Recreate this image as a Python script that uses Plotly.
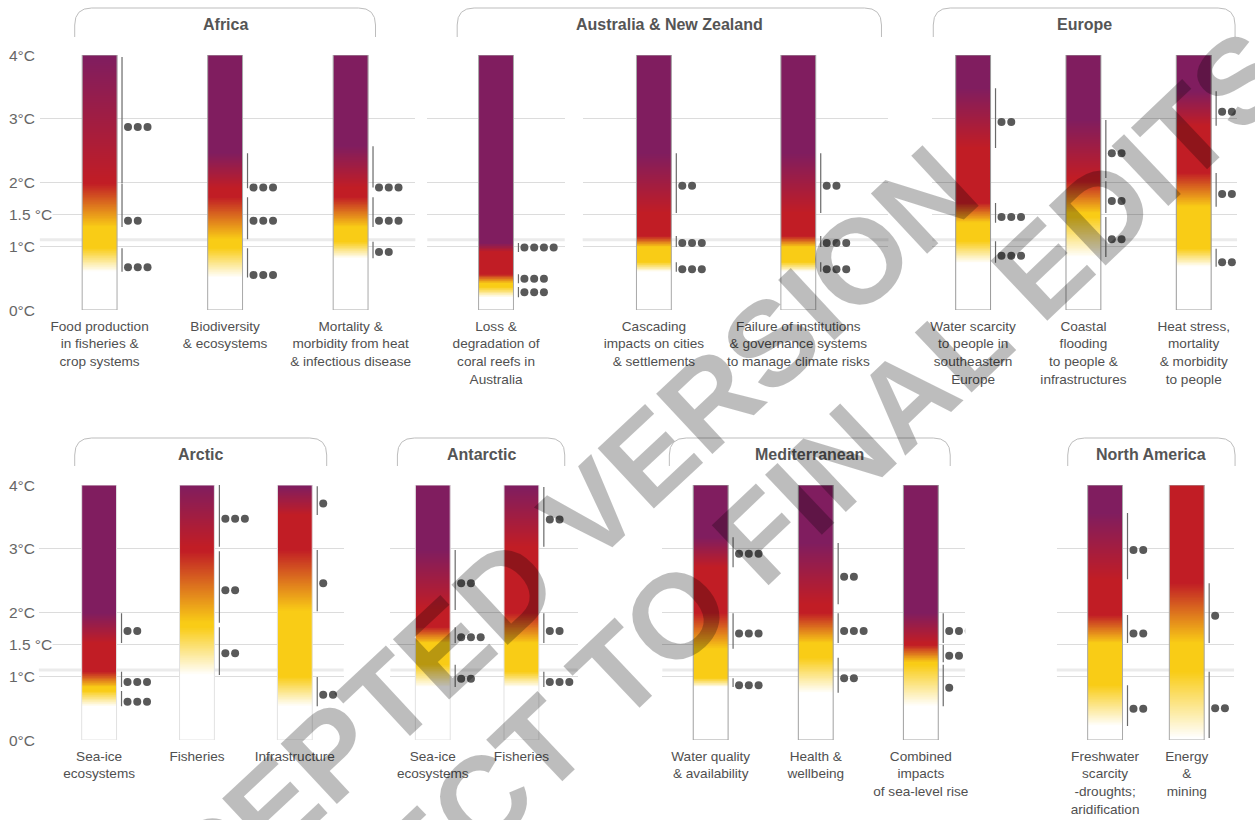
import numpy as np
import plotly.graph_objects as go

W, H = 1255, 820

# ======================= DATA =======================
REGION_NAMES = ["Africa", "Australia & New Zealand", "Europe",
                "Arctic", "Antarctic", "Mediterranean", "North America"]

TEMP_TICK_VALUES = [0, 1, 1.5, 2, 3, 4]
TEMP_TICK_LABELS = ["0°C", "1°C", "1.5 °C", "2°C", "3°C", "4°C"]
PRESENT_DAY_WARMING = 1.1
TEMP_MAX = 4.0

# risk levels: undetectable, moderate, high, very high
RISK_LEVEL_COLORS = ["#ffffff", "#f9cc16", "#c11d25", "#801d5f"]

AFRICA_LABELS = ["Food production<br>in fisheries &<br>crop systems",
                 "Biodiversity<br>& ecosystems",
                 "Mortality &<br>morbidity from heat<br>& infectious disease"]
AUS_REEF_LABELS = ["Loss &<br>degradation of<br>coral reefs in<br>Australia"]
AUS_CITY_LABELS = ["Cascading<br>impacts on cities<br>& settlements",
                   "Failure of institutions<br>& governance systems<br>to manage climate risks"]
EUROPE_LABELS = ["Water scarcity<br>to people in<br>southeastern<br>Europe",
                 "Coastal<br>flooding<br>to people &<br>infrastructures",
                 "Heat stress,<br>mortality<br>& morbidity<br>to people"]
ARCTIC_LABELS = ["Sea-ice<br>ecosystems", "Fisheries", "Infrastructure"]
ANTARCTIC_LABELS = ["Sea-ice<br>ecosystems", "Fisheries"]
MED_LABELS = ["Water quality<br>& availability", "Health &<br>wellbeing",
              "Combined<br>impacts<br>of sea-level rise"]
NAMERICA_LABELS = ["Freshwater<br>scarcity<br>-droughts;<br>aridification",
                   "Energy<br>&<br>mining"]

# transitions (bottom -> top), each: [start °C, end °C, confidence marker °C, confidence dots]
AFRICA_TRANSITIONS = [
    [[0.60, 0.97, 0.67, 3], [1.30, 1.98, 1.40, 2], [1.99, 3.97, 2.87, 3]],
    [[0.51, 0.97, 0.55, 3], [1.11, 1.77, 1.40, 3], [1.91, 2.46, 1.92, 3]],
    [[0.81, 1.07, 0.91, 2], [1.30, 1.77, 1.40, 3], [1.92, 2.57, 1.92, 3]],
]
AUS_REEF_TRANSITIONS = [
    [[0.20, 0.36, 0.28, 3], [0.42, 0.56, 0.49, 3], [0.91, 1.05, 0.98, 4]],
]
AUS_CITY_TRANSITIONS = [
    [[0.60, 0.75, 0.64, 3], [0.99, 1.16, 1.05, 3], [1.52, 2.46, 1.95, 2]],
    [[0.60, 0.75, 0.64, 3], [0.99, 1.16, 1.05, 3], [1.52, 2.46, 1.95, 2]],
]
EUROPE_TRANSITIONS = [
    [[0.74, 1.08, 0.85, 3], [1.37, 1.68, 1.46, 3], [2.54, 3.48, 2.95, 2]],
    [[0.83, 1.46, 1.11, 2], [1.52, 2.02, 1.71, 2], [2.07, 2.98, 2.46, 2]],
    [[0.68, 0.96, 0.75, 3], [1.62, 2.15, 1.82, 3], [2.89, 3.43, 3.11, 2]],
]
ARCTIC_TRANSITIONS = [
    [[0.53, 0.77, 0.60, 3], [0.83, 1.07, 0.91, 3], [1.52, 1.99, 1.71, 2]],
    [[1.02, 1.77, 1.36, 2], [1.84, 2.96, 2.35, 2], [3.03, 4.00, 3.47, 3]],
    [[0.53, 0.99, 0.71, 2], [2.02, 2.98, 2.46, 1], [3.53, 3.98, 3.71, 1]],
]
ANTARCTIC_TRANSITIONS = [
    [[0.83, 1.18, 0.96, 2], [1.52, 1.77, 1.61, 3], [2.04, 2.98, 2.46, 2]],
    [[0.83, 1.07, 0.91, 3], [1.52, 1.99, 1.71, 2], [3.03, 3.97, 3.46, 2]],
]
MED_TRANSITIONS = [
    [[0.83, 0.97, 0.86, 3], [1.43, 1.99, 1.67, 3], [2.71, 3.18, 2.92, 3]],
    [[0.74, 1.29, 0.97, 2], [1.52, 1.99, 1.71, 3], [2.13, 3.09, 2.56, 2]],
    [[0.53, 1.18, 0.82, 1], [1.22, 1.49, 1.32, 2], [1.52, 1.99, 1.71, 3]],
]
NAMERICA_TRANSITIONS = [
    [[0.22, 0.86, 0.49, 2], [1.52, 1.96, 1.67, 2], [2.52, 3.56, 2.98, 2]],
    [[0.03, 1.07, 0.50, 2], [1.52, 2.46, 1.95, 1]],
]

WATERMARK_LINES = ["ACCEPTED VERSION", "SUBJECT TO FINAL EDITS"]

# ======================= LAYOUT / STYLE =======================
PANELS = [
    (AFRICA_LABELS, AFRICA_TRANSITIONS),
    (AUS_REEF_LABELS, AUS_REEF_TRANSITIONS),
    (AUS_CITY_LABELS, AUS_CITY_TRANSITIONS),
    (EUROPE_LABELS, EUROPE_TRANSITIONS),
    (ARCTIC_LABELS, ARCTIC_TRANSITIONS),
    (ANTARCTIC_LABELS, ANTARCTIC_TRANSITIONS),
    (MED_LABELS, MED_TRANSITIONS),
    (NAMERICA_LABELS, NAMERICA_TRANSITIONS),
]
PANEL_ROW = [0, 0, 0, 0, 1, 1, 1, 1]
PANEL_DOMAIN_PX = [(38, 415), (427, 565), (583, 890), (934, 1240),
                   (37, 343), (390, 578), (663, 967), (1059, 1237)]
PANEL_FIRST_CENTER_PX = [98, 496, 654.5, 975, 97.5, 432.5, 711.5, 1107.5]
PANEL_SPACING_PX = [126, 100, 145, 110.75, 98.25, 89, 105.5, 82]
PANEL_OUTLINE = ["#a9a9a9", "#a9a9a9", "#a9a9a9", "#9a9a9a",
                 "#e2e2e2", "#e2e2e2", "#a0a0a0", "#a9a9a9"]
ROW_Y_PX = [(55, 310), (485, 740)]          # pixel rows of 4°C and 0°C
HEADER_BOXES = [  # (region index, x0, x1, top, bottom)
    (0, 73, 375, 8, 37), (1, 457, 883, 8, 37), (2, 935, 1238, 8, 37),
    (3, 73, 326, 438, 466), (4, 397, 565, 438, 466), (5, 670, 952, 438, 466),
    (6, 1070, 1238, 438, 466),
]
BAR_WIDTH_PX = 35
LINE_GAP_PX = 5
DOT_GAP_PX = 6
DOT_STEP_PX = 9.8
FONT = "Liberation Sans, Arial, sans-serif"
WATERMARK_POS = [(505, 590, -43, 120), (715, 579, -43.5, 120)]  # cx, cy, angle, size

def X(px):
    return px / W

def Y(py):
    return 1 - py / H

colorscale = [[i / 3, c] for i, c in enumerate(RISK_LEVEL_COLORS)]
t_edges = np.linspace(0, TEMP_MAX, 401)
t_mid = 0.5 * (t_edges[:-1] + t_edges[1:])

fig = go.Figure()
layout = dict(width=W, height=H, margin=dict(l=0, r=0, t=0, b=0),
              plot_bgcolor="white", paper_bgcolor="white",
              showlegend=False, font=dict(family=FONT, color="#555555"))
shapes, annotations = [], []

for k, (labels, transitions) in enumerate(PANELS):
    ax = k + 1
    xa = "x" if ax == 1 else f"x{ax}"
    ya = "y" if ax == 1 else f"y{ax}"
    xkey = "xaxis" if ax == 1 else f"xaxis{ax}"
    ykey = "yaxis" if ax == 1 else f"yaxis{ax}"
    d0, d1 = PANEL_DOMAIN_PX[k]
    c0, s = PANEL_FIRST_CENTER_PX[k], PANEL_SPACING_PX[k]
    top_px, bot_px = ROW_Y_PX[PANEL_ROW[k]]
    w = BAR_WIDTH_PX / s
    n = len(labels)

    layout[xkey] = dict(domain=[X(d0), X(d1)], range=[(d0 - c0) / s, (d1 - c0) / s],
                        anchor=ya, tickmode="array", tickvals=list(range(n)),
                        ticktext=labels, showgrid=False, zeroline=False,
                        showline=False, ticks="", fixedrange=True,
                        ticklabelstandoff=6,
                        tickfont=dict(family=FONT, size=13.6, color="#505050"))
    layout[ykey] = dict(domain=[Y(bot_px), Y(top_px)], range=[0, TEMP_MAX], anchor=xa,
                        tickmode="array", tickvals=TEMP_TICK_VALUES,
                        showticklabels=False, showgrid=True, gridcolor="#dcdcdc",
                        gridwidth=1, zeroline=False, showline=False, ticks="",
                        fixedrange=True)

    # present-day warming band
    shapes.append(dict(type="line", xref=f"{xa} domain", yref=ya, x0=0, x1=1,
                       y0=PRESENT_DAY_WARMING, y1=PRESENT_DAY_WARMING,
                       line=dict(color="#ebebeb", width=3), layer="below"))

    line_x, line_y, dot_x, dot_y = [], [], [], []
    for i, trans in enumerate(transitions):
        level = np.zeros_like(t_mid)
        for lo, hi, _, _ in trans:
            level += np.clip((t_mid - lo) / (hi - lo), 0, 1)
        fig.add_trace(go.Heatmap(
            x=[i - w / 2, i + w / 2], y=t_edges, z=level.reshape(-1, 1),
            colorscale=colorscale, zmin=0, zmax=3, showscale=False,
            hoverinfo="skip", xaxis=xa, yaxis=ya))
        lx = i + w / 2 + LINE_GAP_PX / s
        for lo, hi, mark, ndots in trans:
            line_x += [lx, lx, None]
            line_y += [lo, hi, None]
            for j in range(ndots):
                dot_x.append(lx + (DOT_GAP_PX + j * DOT_STEP_PX) / s)
                dot_y.append(mark)

    fig.add_trace(go.Bar(x=list(range(n)), y=[TEMP_MAX] * n, width=w,
                         marker=dict(color="rgba(0,0,0,0)",
                                     line=dict(color=PANEL_OUTLINE[k], width=1)),
                         hoverinfo="skip", xaxis=xa, yaxis=ya))
    fig.add_trace(go.Scatter(x=line_x, y=line_y, mode="lines",
                             line=dict(color="#6a6a6a", width=1.2),
                             hoverinfo="skip", xaxis=xa, yaxis=ya))
    fig.add_trace(go.Scatter(x=dot_x, y=dot_y, mode="markers",
                             marker=dict(color="#595959", size=8, line=dict(width=0)),
                             hoverinfo="skip", xaxis=xa, yaxis=ya))

# temperature labels at left of each row
for row_axis in ["y", "y5"]:
    for v, t in zip(TEMP_TICK_VALUES, TEMP_TICK_LABELS):
        annotations.append(dict(text=t, x=X(6), xref="paper", y=v, yref=row_axis,
                                xanchor="left", yanchor="middle", showarrow=False,
                                bgcolor="white", borderpad=0,
                                font=dict(family=FONT, size=15.5, color="#666666")))

# region header brackets
r = 17
for reg, x0, x1, yt, yb in HEADER_BOXES:
    path = (f"M {X(x0)},{Y(yb)} L {X(x0)},{Y(yt + r)} Q {X(x0)},{Y(yt)} {X(x0 + r)},{Y(yt)} "
            f"L {X(x1 - r)},{Y(yt)} Q {X(x1)},{Y(yt)} {X(x1)},{Y(yt + r)} L {X(x1)},{Y(yb)}")
    shapes.append(dict(type="path", xref="paper", yref="paper", path=path,
                       line=dict(color="#bdbdbd", width=1)))
    annotations.append(dict(text=f"<b>{REGION_NAMES[reg]}</b>", x=X((x0 + x1) / 2),
                            y=Y(yt + 16), xref="paper", yref="paper",
                            xanchor="center", yanchor="middle", showarrow=False,
                            font=dict(family=FONT, size=16, color="#555555")))

# watermark
for txt, (cx, cy, ang, size) in zip(WATERMARK_LINES, WATERMARK_POS):
    annotations.append(dict(text=f"<b>{txt}</b>", x=X(cx), y=Y(cy), xref="paper",
                            yref="paper", xanchor="center", yanchor="middle",
                            textangle=ang, showarrow=False,
                            font=dict(family=FONT, size=size,
                                      color="rgba(0,0,0,0.26)")))

layout["shapes"] = shapes
layout["annotations"] = annotations
fig.update_layout(**layout)
fig.write_html("out.html")
